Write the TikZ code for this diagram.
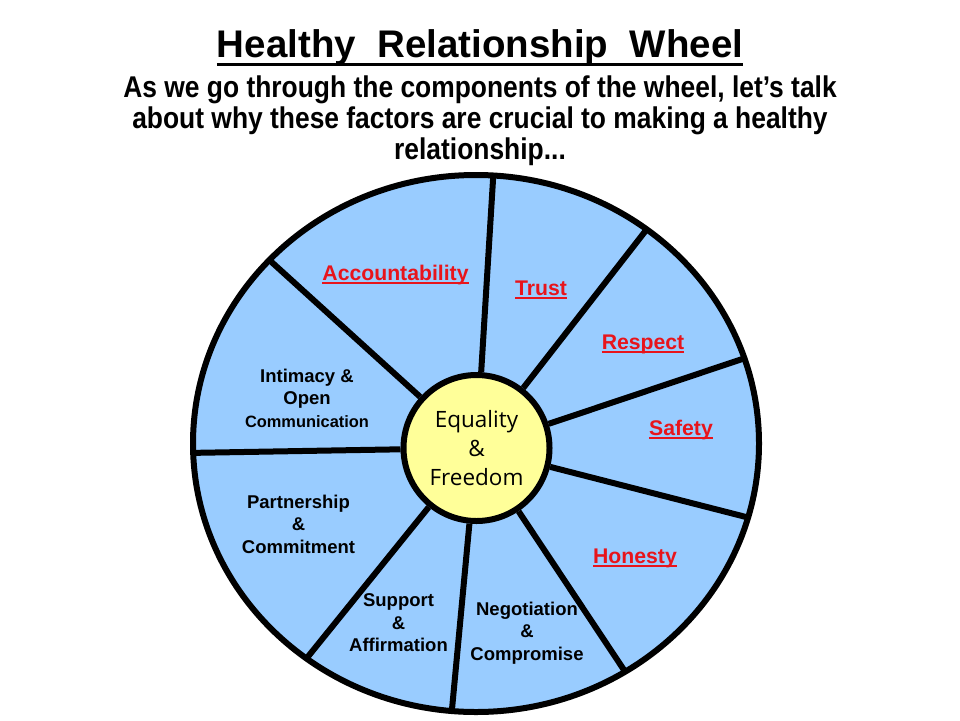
\documentclass[tikz,border=0pt]{standalone}
\usepackage{fontspec}
\setmainfont{Liberation Sans}
\newfontfamily\subfont[FakeStretch=0.88]{Liberation Sans}
\newfontfamily\titlefont[WordSpace=2]{Liberation Sans}
\newfontfamily\hubfont{Open Sans}
\newcommand{\ulbox}[3]{\setbox0\hbox{#3}\rlap{\rule[#1]{\wd0}{#2}}\box0}
\definecolor{wheelblue}{HTML}{99CCFF}
\definecolor{hubyellow}{HTML}{FFFF99}
\definecolor{labred}{HTML}{E8141B}
\tikzset{
  spoke/.style={line width=6pt},
  redlab/.style={anchor=base,text=labred,font=\bfseries\fontsize{21.2}{24}\selectfont},
  blklab/.style={align=center,font=\bfseries\fontsize{18.5}{22.5}\selectfont},
}
\begin{document}
\begin{tikzpicture}[x=1pt,y=-1pt]
    \useasboundingbox (0,0) rectangle (960,720);
    % heading
    \node[anchor=base,font=\titlefont\bfseries\fontsize{38.5}{44}\selectfont] (title) at (480,57)
      {\ulbox{-8.5pt}{3pt}{Healthy Relationship Wheel}};
    \node[align=center,font=\subfont\bfseries\fontsize{30}{31}\selectfont] (sub) at (480,121)
      {As we go through the components of the wheel, let’s talk\\
       about why these factors are crucial to making a healthy\\
       relationship...};
    % wheel
    \coordinate (wc) at (476,443.5);
    \draw[line width=6pt,fill=wheelblue] (wc) ellipse [x radius=283, y radius=268.5];
    \node[circle,draw,line width=6pt,fill=hubyellow,minimum size=146pt,inner sep=0pt,
      align=center,font=\hubfont\fontsize{22.5}{29}\selectfont] (hub) at (476.5,448) {Equality\\\&\\Freedom};
    \foreach \a in {-86.5,-52.9,-18.5,16,58.2,94.9,126.8,178,223.1}
      \draw[spoke] (hub) -- ([shift={(\a:283 and 268.5)}]wc);
    % labels
    \node[redlab] (acc) at (395.5,280) {\ulbox{-3.5pt}{2pt}{Accountability}};
    \node[redlab] (trust) at (541,295) {\ulbox{-3.5pt}{2pt}{Trust}};
    \node[redlab] (resp) at (643,349) {\ulbox{-3.5pt}{2pt}{Respect}};
    \node[redlab] (safe) at (681,435) {\ulbox{-3.5pt}{2pt}{Safety}};
    \node[redlab] (hon) at (635,563) {\ulbox{-3.5pt}{2pt}{Honesty}};
    \node[blklab] (intim) at (307,398) {Intimacy \&\\Open\\{\fontsize{16.4}{22.5}\selectfont Communication}};
    \node[blklab] (part) at (298.5,524) {Partnership\\\&\\Commitment};
    \node[blklab] (supp) at (398.5,623) {Support\\\&\\Affirmation};
    \node[blklab] (nego) at (527,633) {Negotiation\\\&\\Compromise};
\end{tikzpicture}
\end{document}
